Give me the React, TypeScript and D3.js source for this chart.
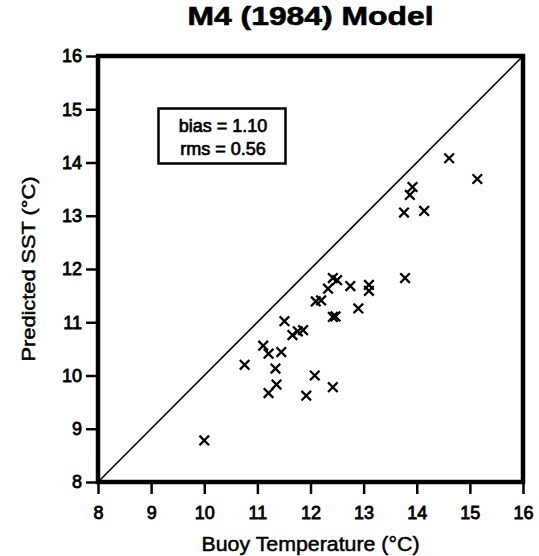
import React, { useEffect, useRef } from 'react';
import * as d3 from 'd3';

// Buoy temperature vs predicted SST, M4 (1984) model
const buoyTemp = [10.0, 10.76, 11.11, 11.21, 11.34, 11.45, 11.51, 11.36, 11.21, 11.92, 12.08, 12.42, 11.66, 11.76, 11.86, 12.1, 12.2, 12.33, 12.42, 12.5, 12.75, 12.42, 12.47, 12.9, 13.1, 13.1, 13.78, 13.76, 14.14, 13.87, 13.92, 14.61, 15.14];
const predictedSst = [8.78, 10.2, 10.56, 10.41, 10.13, 10.44, 11.02, 9.83, 9.67, 9.62, 10.0, 9.78, 10.76, 10.83, 10.85, 11.39, 11.41, 11.63, 11.83, 11.79, 11.68, 11.1, 11.11, 11.26, 11.7, 11.59, 11.83, 13.06, 13.09, 13.39, 13.54, 14.08, 13.69];
const axisTicks = [8, 9, 10, 11, 12, 13, 14, 15, 16];
const statsLines = ['bias = 1.10', 'rms = 0.56'];

const FONT = '"Liberation Sans", Arial, Helvetica, sans-serif';

const App = () => {
  const ref = useRef<SVGSVGElement | null>(null);

  useEffect(() => {
    const width = 539;
    const height = 556;
    const m = { left: 98, right: 16, top: 56, bottom: 74 };

    const svg = d3.select(ref.current);
    svg.selectAll('*').remove();

    const x = d3.scaleLinear().domain([8, 16]).range([m.left, width - m.right]);
    const y = d3.scaleLinear().domain([8, 16]).range([height - m.bottom, m.top]);

    // title
    svg.append('text')
      .attr('x', (m.left + width - m.right) / 2)
      .attr('y', 25)
      .attr('text-anchor', 'middle')
      .attr('font-family', FONT)
      .attr('font-weight', 'bold')
      .attr('font-size', 25)
      .attr('stroke', '#000')
      .attr('stroke-width', 0.6)
      .attr('textLength', 246)
      .attr('lengthAdjust', 'spacingAndGlyphs')
      .text('M4  (1984)  Model');

    // axes
    const xAxis = svg.append('g')
      .attr('transform', `translate(0,${y(8)})`)
      .call(d3.axisBottom(x).tickValues(axisTicks).tickSize(12).tickPadding(12));
    const yAxis = svg.append('g')
      .attr('transform', `translate(${x(8)},0)`)
      .call(d3.axisLeft(y).tickValues(axisTicks).tickSize(12).tickPadding(4));

    [xAxis, yAxis].forEach(g => {
      g.select('.domain').remove();
      g.selectAll('line').attr('stroke', '#000').attr('stroke-width', 2.5);
      g.selectAll('text')
        .attr('fill', '#000')
        .attr('stroke', '#000')
        .attr('stroke-width', 0.8)
        .style('font-family', FONT)
        .style('font-size', '18px');
    });

    // 1:1 line
    svg.append('line')
      .attr('x1', x(8)).attr('y1', y(8))
      .attr('x2', x(16)).attr('y2', y(16))
      .attr('stroke', '#000')
      .attr('stroke-width', 1.6);

    // frame
    svg.append('rect')
      .attr('x', x(8)).attr('y', y(16))
      .attr('width', x(16) - x(8)).attr('height', y(8) - y(16))
      .attr('fill', 'none')
      .attr('stroke', '#000')
      .attr('stroke-width', 4.5);

    // x markers
    const s = 4.8;
    const pts = buoyTemp.map((b, i) => ({ b, p: predictedSst[i] }));
    svg.append('g')
      .selectAll('path')
      .data(pts)
      .enter()
      .append('path')
      .attr('d', d => {
        const cx = x(d.b), cy = y(d.p);
        return `M${cx - s},${cy - s}L${cx + s},${cy + s}M${cx - s},${cy + s}L${cx + s},${cy - s}`;
      })
      .attr('stroke', '#000')
      .attr('stroke-width', 2.3)
      .attr('fill', 'none');

    // stats box
    svg.append('rect')
      .attr('x', 158.5).attr('y', 108.5)
      .attr('width', 127).attr('height', 55)
      .attr('fill', '#fff')
      .attr('stroke', '#000')
      .attr('stroke-width', 2.5);
    svg.append('g')
      .selectAll('text')
      .data(statsLines)
      .enter()
      .append('text')
      .attr('x', 223)
      .attr('y', (d, i) => 131.5 + i * 23.5)
      .attr('text-anchor', 'middle')
      .attr('font-family', FONT)
      .attr('font-size', 18)
      .attr('stroke', '#000')
      .attr('stroke-width', 0.7)
      .text(d => d);

    // axis titles
    svg.append('text')
      .attr('x', (x(8) + x(16)) / 2)
      .attr('y', 551)
      .attr('text-anchor', 'middle')
      .attr('font-family', FONT)
      .attr('font-size', 20)
      .attr('stroke', '#000')
      .attr('stroke-width', 0.5)
      .attr('textLength', 218)
      .attr('lengthAdjust', 'spacingAndGlyphs')
      .text('Buoy Temperature (°C)');

    svg.append('text')
      .attr('transform', `translate(35,${(y(8) + y(16)) / 2}) rotate(-90)`)
      .attr('text-anchor', 'middle')
      .attr('font-family', FONT)
      .attr('font-size', 19)
      .attr('stroke', '#000')
      .attr('stroke-width', 0.5)
      .attr('textLength', 185)
      .attr('lengthAdjust', 'spacingAndGlyphs')
      .text('Predicted SST (°C)');
  }, []);

  return (
    <svg
      ref={ref}
      width={539}
      height={556}
      style={{ position: 'absolute', left: 0, top: 0, background: '#fff' }}
    />
  );
};

export default App;
